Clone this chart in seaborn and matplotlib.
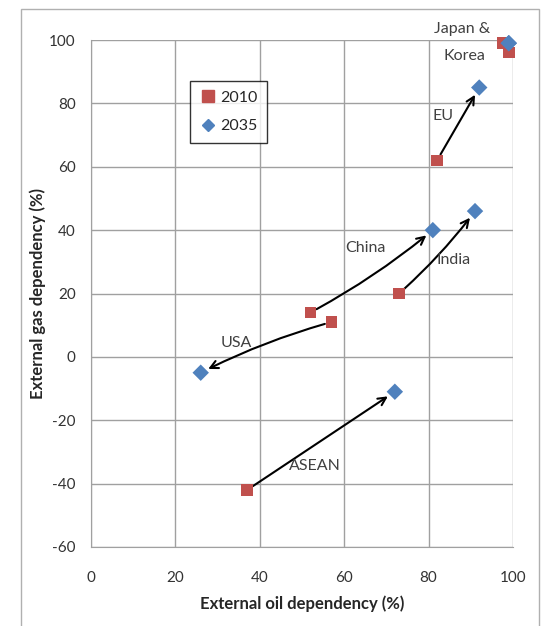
import pandas as pd
from matplotlib import pyplot as plt
from matplotlib.patches import Rectangle
from matplotlib.lines import Line2D
import seaborn as sns

regions = ['USA', 'China', 'India', 'EU', 'ASEAN', 'Japan', 'Korea']
oil_2010 = [57, 52, 73, 82, 37, 97.5, 99]
gas_2010 = [11, 14, 20, 62, -42, 99, 96]
oil_2035 = [26, 81, 91, 92, 72, 99, 99]
gas_2035 = [-5, 40, 46, 85, -11, 99, 99]
years = ['2010', '2035']

df = pd.concat([
    pd.DataFrame({'region': regions, 'oil': oil_2010, 'gas': gas_2010, 'year': years[0]}),
    pd.DataFrame({'region': regions, 'oil': oil_2035, 'gas': gas_2035, 'year': years[1]}),
])

sns.set_style('white')
plt.rcParams['font.family'] = ['Lato', 'DejaVu Sans']
plt.rcParams['axes.unicode_minus'] = False

fig = plt.figure(figsize=(5.44, 6.26), dpi=100)
ax = fig.add_axes([91 / 544, 1 - 547 / 626, 422 / 544, 507 / 626])

# chart area border
fig.patches.append(Rectangle((21 / 544, -0.01), 518 / 544, 1 - 9 / 626 + 0.01,
                             transform=fig.transFigure, fill=False,
                             edgecolor='#b0b0b0', linewidth=1))

sns.scatterplot(data=df, x='oil', y='gas', hue='year', style='year',
                palette={'2010': '#c0504d', '2035': '#4f81bd'},
                markers={'2010': 's', '2035': 'D'},
                s=70, edgecolor='none', ax=ax, zorder=3, legend=False, clip_on=False)

# arrows from 2010 to 2035
arrow_rad = {'USA': 0.05, 'China': 0.05, 'India': 0.05, 'EU': 0.0, 'ASEAN': 0.0}
for i, r in enumerate(regions):
    if r in arrow_rad:
        ax.annotate('', xy=(oil_2035[i], gas_2035[i]), xytext=(oil_2010[i], gas_2010[i]),
                    arrowprops=dict(arrowstyle='->', color='black', lw=1.5,
                                    shrinkA=5, shrinkB=6, mutation_scale=14,
                                    connectionstyle=f'arc3,rad={arrow_rad[r]}'),
                    zorder=2)

labels = {'Japan &': (88, 103.5), 'Korea': (88.5, 95), 'EU': (83.5, 76), 'China': (65, 34.5),
          'India': (86, 30.5), 'USA': (34.5, 4.5), 'ASEAN': (53, -34.5)}
for t, (x, y) in labels.items():
    ax.text(x, y, t, fontsize=11.5, color='#404040', ha='center', va='center')

ax.set_xlim(0, 100)
ax.set_ylim(-60, 100)
ax.set_xticks(range(0, 101, 20))
ax.set_yticks(range(-60, 101, 20))
ax.grid(True, color='#a0a0a0', linewidth=1)
for s in ['top', 'right']:
    ax.spines[s].set_visible(False)
for s in ['left', 'bottom']:
    ax.spines[s].set_color('#a0a0a0')
ax.tick_params(axis='both', which='both', direction='out', length=5, width=1,
               color='#a0a0a0', labelsize=11, labelcolor='#333333', pad=6)
ax.tick_params(axis='x', pad=12)
ax.set_xlabel('External oil dependency (%)', fontsize=12, fontweight='bold', labelpad=8)
ax.set_ylabel('External gas dependency (%)', fontsize=12, fontweight='bold', labelpad=2)

# legend
handles = [Line2D([], [], marker='s', color='#c0504d', linestyle='none', markersize=8),
           Line2D([], [], marker='D', color='#4f81bd', linestyle='none', markersize=6)]
leg = ax.legend(handles, years, loc='upper left', bbox_to_anchor=(0.215, 0.935),
                frameon=True, fancybox=False, handletextpad=0.2, labelspacing=0.9,
                fontsize=11.5, borderpad=0.6, handlelength=1.1)
leg.get_frame().set_edgecolor('black')
leg.get_frame().set_linewidth(1)

plt.savefig('out.png', dpi=100)
